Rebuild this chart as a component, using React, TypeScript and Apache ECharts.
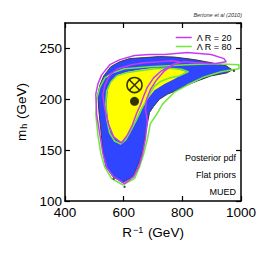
import React, { useEffect, useRef } from "react";
import * as echarts from "echarts";

// x: R^-1 (GeV), y: m_h (GeV)
const xTicks = [400, 600, 800, 1000];
const yTicks = [100, 150, 200, 250];

// 95% posterior region (blue)
const region95: [number, number][] = [
  [597, 118], [563, 124], [539, 134], [529, 150], [522, 170], [515, 190], [512, 205],
  [519, 214], [532, 223], [556, 232], [587, 237], [620, 240], [671, 241], [722, 242],
  [773, 241.5], [841, 239], [898, 236], [949, 233], [970, 229], [953, 226], [898, 223],
  [851, 218], [817, 214], [783, 209], [749, 205], [722, 200], [702, 193], [688, 187],
  [678, 172], [668, 155], [658, 142], [647, 134], [631, 124],
];

// 68% posterior region (yellow)
const region68: [number, number][] = [
  [590, 158], [573, 161], [556, 168], [546, 181], [542, 195], [546, 210], [559, 218],
  [580, 224], [614, 227], [654, 229], [705, 231], [756, 231], [790, 229], [814, 227],
  [773, 220], [739, 215], [705, 209], [681, 200], [658, 190], [637, 177], [613, 163],
];

// Lambda R = 20 contours
const lr20Outer: [number, number][] = [
  [603, 117], [566, 124], [542, 133], [529, 147], [519, 165], [508, 185], [505, 205],
  [512, 215], [525, 224], [553, 234], [587, 239], [637, 243], [688, 244], [739, 244],
  [817, 246], [898, 244], [942, 240], [949, 237], [908, 235], [851, 236], [807, 237],
  [773, 235], [739, 228], [712, 219], [692, 210], [678, 200], [674, 190], [681, 179],
  [674, 161], [664, 146], [651, 133.5], [634, 124],
];
const lr20Inner: [number, number][] = [
  [593, 157], [566, 163], [549, 175], [536, 190], [529, 204], [536, 214], [553, 224],
  [580, 230], [627, 234], [671, 236], [722, 237], [763, 238], [790, 237], [763, 233],
  [729, 228], [702, 221], [681, 212], [668, 203], [658, 195], [644, 186], [630, 175],
  [613, 165],
];

// Lambda R = 80 contours
const lr80Outer: [number, number][] = [
  [597, 116], [559, 122], [536, 133], [522, 147], [512, 165], [505, 185], [508, 200],
  [519, 212], [536, 221], [563, 226], [603, 230], [688, 232], [814, 234], [908, 235],
  [993, 234], [993, 230], [932, 227], [874, 222], [817, 214], [773, 207], [732, 195],
  [712, 185], [691, 176], [681, 161], [668, 146], [654, 133.5], [637, 122],
];
const lr80Inner: [number, number][] = [
  [590, 156], [569, 159], [552, 167], [542, 181], [539, 195], [542, 208], [556, 217],
  [576, 223], [610, 226], [654, 228], [705, 230], [756, 230.5], [797, 229.5], [820, 227],
  [790, 223], [756, 221], [729, 218], [705, 213], [685, 203], [664, 192], [644, 180],
  [624, 169], [607, 160],
];

const bestFit: [number, number][] = [[637, 214]];
const meanPoint: [number, number][] = [[637, 198]];
const specks: [number, number][] = [[976, 228], [603, 114], [566, 122]];

const legendNames = ["Λ R = 20", "Λ R = 80"];
const notes = ["Posterior pdf", "Flat priors", "MUED"];
const credit = "Bertone et al (2010)";

const MAGENTA = "#c43cf2";
const GREEN = "#6ee83a";
const BLUE = "#2f45ff";
const YELLOW = "#ffff00";
const FONT = "'Liberation Sans', Arial, Helvetica, sans-serif";

function poly(
  name: string,
  pts: [number, number][],
  fill: string,
  stroke: string,
  lw: number,
  z: number
) {
  return {
    type: "custom",
    name,
    coordinateSystem: "cartesian2d",
    data: pts,
    z,
    silent: true,
    itemStyle: { color: stroke !== "none" ? stroke : fill },
    encode: { x: 0, y: 1 },
    renderItem: (params: any, api: any) => {
      if (params.dataIndex !== 0) return null;
      const points = pts.map((p) => api.coord(p));
      return {
        type: "polygon",
        shape: { points },
        style: { fill, stroke, lineWidth: lw, lineJoin: "round" },
      };
    },
  };
}

export default function App() {
  const ref = useRef<HTMLDivElement>(null);
  useEffect(() => {
    if (!ref.current) return;
    const chart = echarts.init(ref.current, undefined, { renderer: "svg" });
    const axisCommon = {
      axisLine: { show: true, lineStyle: { color: "#000", width: 1.5 } },
      axisTick: { show: true, inside: true, length: 5, lineStyle: { color: "#000", width: 1.2 } },
      splitLine: { show: false },
    };
    chart.setOption({
      animation: false,
      backgroundColor: "#fff",
      textStyle: { fontFamily: FONT },
      grid: { left: 65, top: 23, width: 176, height: 178 },
      legend: {
        orient: "vertical",
        right: 29,
        top: 28,
        itemGap: 0,
        itemWidth: 16,
        itemHeight: 1.5,
        itemStyle: { borderWidth: 0 },
        textStyle: { fontSize: 9, color: "#000", fontFamily: FONT, padding: [0, 0, 0, 0] },
        selectedMode: false,
        data: [
          { name: legendNames[0], icon: "rect", itemStyle: { color: MAGENTA } },
          { name: legendNames[1], icon: "rect", itemStyle: { color: GREEN } },
        ],
      },
      xAxis: [
        {
          type: "value",
          position: "bottom",
          min: 400,
          max: 1000,
          interval: 200,
          ...axisCommon,
          axisLabel: {
            color: "#000",
            fontSize: 13.5,
            margin: 4,
            fontFamily: FONT,
            formatter: (v: number) => (xTicks.includes(v) ? String(v) : ""),
          },
          name: "R{sup|−1} (GeV)",
          nameLocation: "middle",
          nameGap: 24,
          nameTextStyle: {
            fontSize: 13.5,
            color: "#000",
            fontFamily: FONT,
            rich: { sup: { fontSize: 9, verticalAlign: "top", padding: [0, 1, 6, 1], color: "#000" } },
          },
        },
        {
          type: "value",
          position: "top",
          min: 400,
          max: 1000,
          interval: 200,
          ...axisCommon,
          axisLabel: { show: false },
        },
      ],
      yAxis: [
        {
          type: "value",
          position: "left",
          min: 100,
          max: 275,
          interval: 50,
          ...axisCommon,
          axisLabel: {
            color: "#000",
            fontSize: 13.5,
            margin: 3,
            fontFamily: FONT,
            showMaxLabel: false,
            formatter: (v: number) => (yTicks.includes(v) ? String(v) : ""),
          },
          name: "m{sub|h} (GeV)",
          nameLocation: "middle",
          nameGap: 31,
          nameTextStyle: {
            fontSize: 13.5,
            color: "#000",
            fontFamily: FONT,
            rich: { sub: { fontSize: 9, verticalAlign: "bottom", padding: [6, 1, 0, 1], color: "#000" } },
          },
        },
        {
          type: "value",
          position: "right",
          min: 100,
          max: 275,
          interval: 50,
          ...axisCommon,
          axisLabel: { show: false },
        },
      ],
      graphic: [
        {
          type: "text",
          right: 24,
          top: 12,
          style: { text: credit, fontSize: 5.5, fontStyle: "italic", fill: "#333", fontFamily: FONT },
        },
        ...notes.map((t, i) => ({
          type: "text",
          x: 236,
          y: 158 + i * 17,
          style: {
            text: t,
            fontSize: 9,
            fill: "#000",
            fontFamily: FONT,
            textAlign: "right",
            textVerticalAlign: "middle",
          },
        })),
      ],
      series: [
        poly("95%", region95, BLUE, "#3a3a3a", 1, 1),
        poly("68%", region68, YELLOW, "none", 0, 2),
        poly(legendNames[0], lr20Outer, "none", MAGENTA, 1.5, 4),
        poly(legendNames[0], lr20Inner, "none", MAGENTA, 1.5, 4),
        poly(legendNames[1], lr80Outer, "none", GREEN, 1.5, 3),
        poly(legendNames[1], lr80Inner, "none", GREEN, 1.5, 3),
        {
          type: "scatter",
          name: "specks",
          data: specks,
          symbol: "circle",
          symbolSize: 2.5,
          itemStyle: { color: "#333" },
          z: 5,
          silent: true,
        },
        {
          type: "scatter",
          name: "best",
          data: bestFit,
          symbol: "circle",
          symbolSize: 15,
          itemStyle: { color: "none", borderColor: "#000", borderWidth: 1.6 },
          z: 6,
          silent: true,
        },
        {
          type: "scatter",
          name: "bestX",
          data: bestFit,
          symbol: "path://M0,0L10,10M10,0L0,10",
          symbolSize: 10,
          itemStyle: { color: "none", borderColor: "#000", borderWidth: 1.6 },
          z: 6,
          silent: true,
        },
        {
          type: "scatter",
          name: "mean",
          data: meanPoint,
          symbol: "circle",
          symbolSize: 9,
          itemStyle: { color: "#000" },
          z: 6,
          silent: true,
        },
      ],
    });
    return () => chart.dispose();
  }, []);
  return (
    <div
      ref={ref}
      style={{ position: "absolute", left: 0, top: 0, width: 266, height: 266, background: "#fff" }}
    />
  );
}
